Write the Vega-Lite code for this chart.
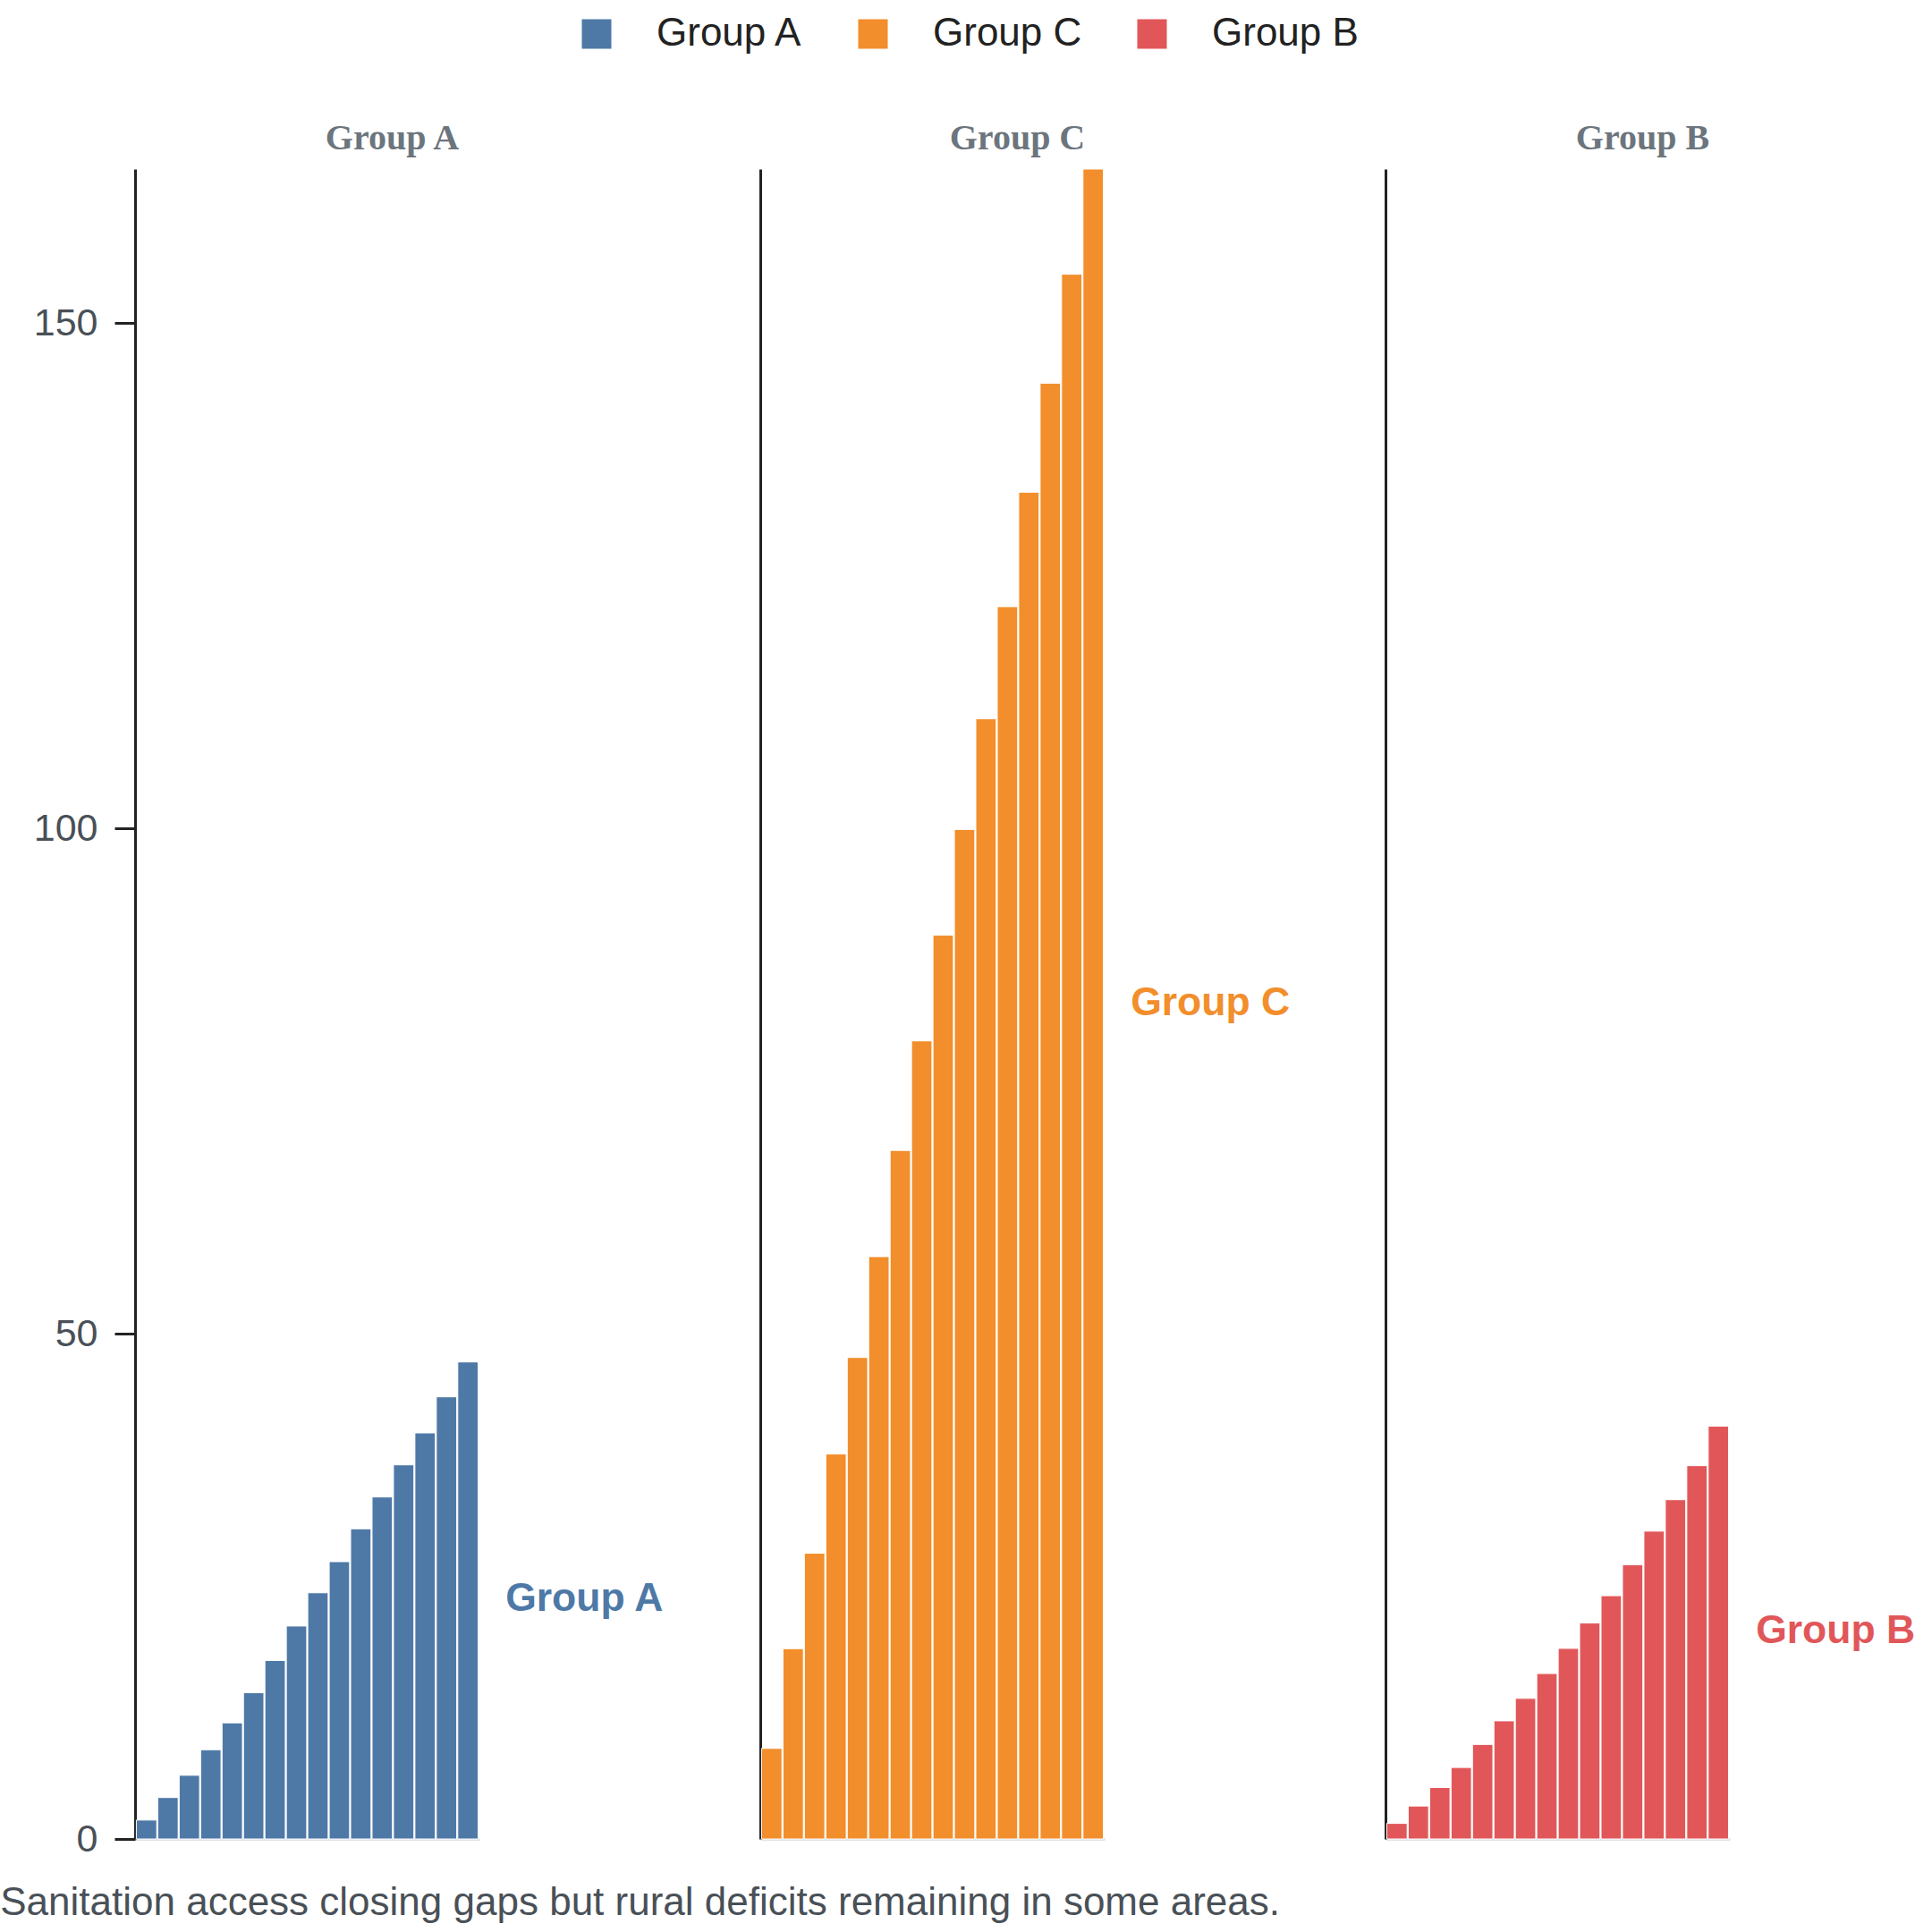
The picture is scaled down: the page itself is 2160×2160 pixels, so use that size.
{
  "$schema": "https://vega.github.io/schema/vega-lite/v6.json",
  "background": "white",
  "padding": {"left": 0, "top": 16, "right": 0, "bottom": 8},
  "config": {
    "view": {"stroke": null},
    "font": "Liberation Sans",
    "title": {"font": "Liberation Serif", "fontSize": 40, "fontWeight": "bold", "color": "#6c757d", "offset": 14, "dx": 95},
    "axisX": {"title": null, "labels": false, "ticks": false, "grid": false, "domainColor": "#dfe3e8", "domainWidth": 3},
    "axisY": {"title": null, "grid": false, "domainColor": "#222222", "domainWidth": 3, "tickColor": "#222222", "tickWidth": 3, "tickSize": 23, "labelPadding": 19, "labelFontSize": 43, "labelColor": "#495057", "labelFont": "Liberation Sans"}
  },
  "title": {
    "text": "Sanitation access closing gaps but rural deficits remaining in some areas.",
    "orient": "bottom",
    "anchor": "start",
    "frame": "bounds",
    "font": "Liberation Sans",
    "fontSize": 44,
    "fontWeight": "normal",
    "color": "#495057",
    "offset": 28,
    "dx": -37
  },
  "data": {
    "values": [
      {"group": "Group A", "idx": 1, "value": 1.87},
      {"group": "Group A", "idx": 2, "value": 4.10},
      {"group": "Group A", "idx": 3, "value": 6.30},
      {"group": "Group A", "idx": 4, "value": 8.83},
      {"group": "Group A", "idx": 5, "value": 11.49},
      {"group": "Group A", "idx": 6, "value": 14.47},
      {"group": "Group A", "idx": 7, "value": 17.66},
      {"group": "Group A", "idx": 8, "value": 21.07},
      {"group": "Group A", "idx": 9, "value": 24.36},
      {"group": "Group A", "idx": 10, "value": 27.44},
      {"group": "Group A", "idx": 11, "value": 30.69},
      {"group": "Group A", "idx": 12, "value": 33.84},
      {"group": "Group A", "idx": 13, "value": 37.02},
      {"group": "Group A", "idx": 14, "value": 40.18},
      {"group": "Group A", "idx": 15, "value": 43.75},
      {"group": "Group A", "idx": 16, "value": 47.2},
      {"group": "Group C", "idx": 1, "value": 8.96},
      {"group": "Group C", "idx": 2, "value": 18.83},
      {"group": "Group C", "idx": 3, "value": 28.27},
      {"group": "Group C", "idx": 4, "value": 38.09},
      {"group": "Group C", "idx": 5, "value": 47.64},
      {"group": "Group C", "idx": 6, "value": 57.62},
      {"group": "Group C", "idx": 7, "value": 68.13},
      {"group": "Group C", "idx": 8, "value": 78.97},
      {"group": "Group C", "idx": 9, "value": 89.43},
      {"group": "Group C", "idx": 10, "value": 99.89},
      {"group": "Group C", "idx": 11, "value": 110.84},
      {"group": "Group C", "idx": 12, "value": 121.94},
      {"group": "Group C", "idx": 13, "value": 133.26},
      {"group": "Group C", "idx": 14, "value": 144.04},
      {"group": "Group C", "idx": 15, "value": 154.83},
      {"group": "Group C", "idx": 16, "value": 165.24},
      {"group": "Group B", "idx": 1, "value": 1.54},
      {"group": "Group B", "idx": 2, "value": 3.26},
      {"group": "Group B", "idx": 3, "value": 5.09},
      {"group": "Group B", "idx": 4, "value": 7.07},
      {"group": "Group B", "idx": 5, "value": 9.35},
      {"group": "Group B", "idx": 6, "value": 11.69},
      {"group": "Group B", "idx": 7, "value": 13.91},
      {"group": "Group B", "idx": 8, "value": 16.37},
      {"group": "Group B", "idx": 9, "value": 18.86},
      {"group": "Group B", "idx": 10, "value": 21.37},
      {"group": "Group B", "idx": 11, "value": 24.07},
      {"group": "Group B", "idx": 12, "value": 27.14},
      {"group": "Group B", "idx": 13, "value": 30.46},
      {"group": "Group B", "idx": 14, "value": 33.57},
      {"group": "Group B", "idx": 15, "value": 36.94},
      {"group": "Group B", "idx": 16, "value": 40.85}
    ]
  },
  "spacing": 106,
  "resolve": {"scale": {"x": "shared", "y": "shared", "color": "shared"}, "axis": {"x": "independent", "y": "independent"}},
  "hconcat": [
    {
      "title": "Group A",
      "width": 385,
      "height": 1867,
      "transform": [{"filter": "datum.group == 'Group A'"}],
      "layer": [
        {
          "mark": {"type": "bar", "stroke": "white", "strokeWidth": 1},
          "encoding": {
            "x": {"field": "idx", "type": "ordinal", "scale": {"paddingInner": 0.05, "paddingOuter": 0.06}},
            "y": {"field": "value", "type": "quantitative", "scale": {"nice": false, "zero": true}, "axis": {"values": [0, 50, 100, 150]}},
            "color": {
              "field": "group", "type": "nominal",
              "scale": {"domain": ["Group A", "Group C", "Group B"], "range": ["#4e79a7", "#f28e2b", "#e15759"]},
              "legend": {"orient": "none", "legendX": 494, "legendY": -173, "direction": "horizontal", "title": null, "symbolType": "square", "symbolSize": 1089, "symbolStrokeWidth": 0, "symbolOpacity": 1, "labelFontSize": 44, "labelColor": "#222222", "labelFont": "Liberation Sans", "labelOffset": 45, "labelLimit": 0, "columnPadding": 56}
            }
          }
        },
        {
          "transform": [{"filter": "datum.idx == 16"}, {"calculate": "datum.value / 2", "as": "mid"}],
          "mark": {"type": "text", "align": "left", "baseline": "middle", "dx": 42, "dy": -1, "fontSize": 44.5, "fontWeight": "bold", "font": "Liberation Sans"},
          "encoding": {
            "x": {"field": "idx", "type": "ordinal"},
            "y": {"field": "mid", "type": "quantitative"},
            "text": {"field": "group"},
            "color": {"field": "group", "type": "nominal", "legend": null}
          }
        }
      ]
    },
    {
      "title": "Group C",
      "width": 385,
      "height": 1867,
      "transform": [{"filter": "datum.group == 'Group C'"}],
      "layer": [
        {
          "mark": {"type": "bar", "stroke": "white", "strokeWidth": 1},
          "encoding": {
            "x": {"field": "idx", "type": "ordinal", "scale": {"paddingInner": 0.05, "paddingOuter": 0.06}},
            "y": {"field": "value", "type": "quantitative", "axis": {"labels": false, "ticks": false}},
            "color": {"field": "group", "type": "nominal"}
          }
        },
        {
          "transform": [{"filter": "datum.idx == 16"}, {"calculate": "datum.value / 2", "as": "mid"}],
          "mark": {"type": "text", "align": "left", "baseline": "middle", "dx": 42, "dy": -1, "fontSize": 44.5, "fontWeight": "bold", "font": "Liberation Sans"},
          "encoding": {
            "x": {"field": "idx", "type": "ordinal"},
            "y": {"field": "mid", "type": "quantitative", "axis": {"labels": false, "ticks": false}},
            "text": {"field": "group"},
            "color": {"field": "group", "type": "nominal", "legend": null}
          }
        }
      ]
    },
    {
      "title": "Group B",
      "width": 385,
      "height": 1867,
      "transform": [{"filter": "datum.group == 'Group B'"}],
      "layer": [
        {
          "mark": {"type": "bar", "stroke": "white", "strokeWidth": 1},
          "encoding": {
            "x": {"field": "idx", "type": "ordinal", "scale": {"paddingInner": 0.05, "paddingOuter": 0.06}},
            "y": {"field": "value", "type": "quantitative", "axis": {"labels": false, "ticks": false}},
            "color": {"field": "group", "type": "nominal"}
          }
        },
        {
          "transform": [{"filter": "datum.idx == 16"}, {"calculate": "datum.value / 2", "as": "mid"}],
          "mark": {"type": "text", "align": "left", "baseline": "middle", "dx": 42, "dy": -1, "fontSize": 44.5, "fontWeight": "bold", "font": "Liberation Sans"},
          "encoding": {
            "x": {"field": "idx", "type": "ordinal"},
            "y": {"field": "mid", "type": "quantitative", "axis": {"labels": false, "ticks": false}},
            "text": {"field": "group"},
            "color": {"field": "group", "type": "nominal", "legend": null}
          }
        }
      ]
    }
  ]
}
